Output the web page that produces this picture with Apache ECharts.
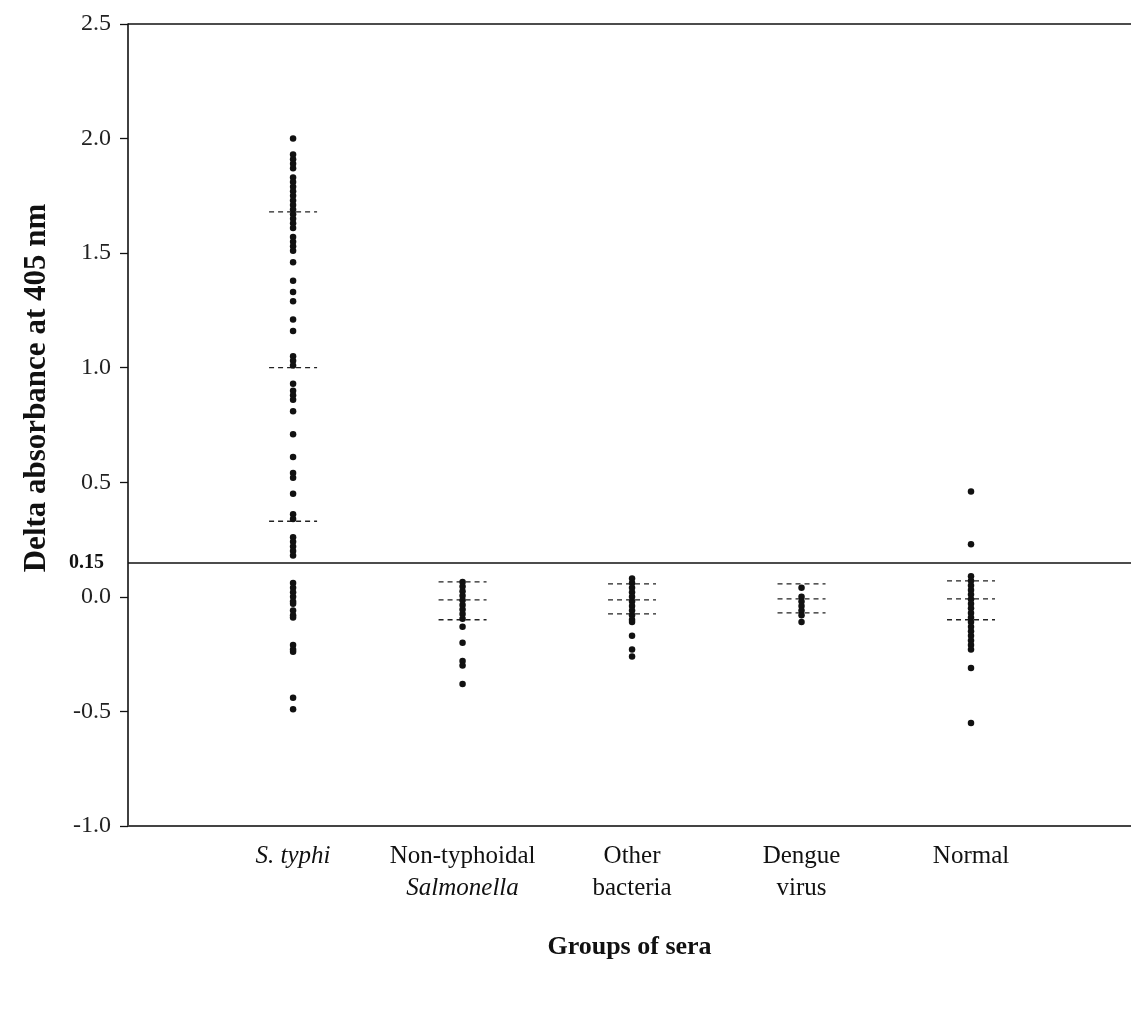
<!DOCTYPE html>
<html>
<head>
<meta charset="utf-8">
<script src="https://cdn.jsdelivr.net/npm/echarts@6/dist/echarts.min.js"></script>
<style>
  html, body { margin: 0; padding: 0; background: #fff; }
  #chart { width: 1131px; height: 1015px; }
</style>
</head>
<body>
<div id="chart"></div>
<script>
// ---- Data ----
const categories = ['S. typhi', 'Non-typhoidal Salmonella', 'Other bacteria', 'Dengue virus', 'Normal'];
const categoryLabels = ['{i|S. typhi}', 'Non-typhoidal\n{i|Salmonella}', 'Other\nbacteria', 'Dengue\nvirus', 'Normal'];
const categoryPositions = [1, 2, 3, 4, 5];

const sTyphi = [2.00, 1.93, 1.91, 1.89, 1.87, 1.83, 1.81, 1.79, 1.77, 1.75, 1.73, 1.71, 1.69, 1.67,
  1.65, 1.63, 1.61, 1.57, 1.55, 1.53, 1.51, 1.46, 1.38, 1.33, 1.29, 1.21, 1.16, 1.05, 1.03, 1.01,
  0.93, 0.90, 0.88, 0.86, 0.81, 0.71, 0.61, 0.54, 0.52, 0.45, 0.36, 0.34, 0.26, 0.24, 0.22, 0.20,
  0.18, 0.06, 0.04, 0.02, 0.00, -0.02, -0.03, -0.06, -0.08, -0.09, -0.21, -0.23, -0.24, -0.44, -0.49];
const nonTyphoidal = [0.065, 0.045, 0.025, 0.005, -0.015, -0.035, -0.055, -0.075, -0.095, -0.13,
  -0.20, -0.28, -0.30, -0.38];
const otherBacteria = [0.08, 0.06, 0.04, 0.02, 0.00, -0.02, -0.04, -0.06, -0.08, -0.10, -0.11,
  -0.17, -0.23, -0.26];
const dengueVirus = [0.04, 0.00, -0.02, -0.04, -0.06, -0.08, -0.11];
const normalSera = [0.46, 0.23, 0.09, 0.07, 0.05, 0.03, 0.01, -0.01, -0.03, -0.05, -0.07, -0.09,
  -0.11, -0.13, -0.15, -0.17, -0.19, -0.21, -0.23, -0.31, -0.55];
const groupValues = [sTyphi, nonTyphoidal, otherBacteria, dengueVirus, normalSera];

// mean and mean +/- SD (dashed reference segments) per group
const sTyphiRefs = [1.68, 1.00, 0.33];
const nonTyphoidalRefs = [0.065, -0.013, -0.10];
const otherBacteriaRefs = [0.057, -0.013, -0.074];
const dengueRefs = [0.057, -0.009, -0.07];
const normalRefs = [0.07, -0.009, -0.10];
const groupRefs = [sTyphiRefs, nonTyphoidalRefs, otherBacteriaRefs, dengueRefs, normalRefs];

const cutoffValue = 0.15;
const yMin = -1.0, yMax = 2.5, yInterval = 0.5;

// ---- Chart ----
const SERIF = '"Liberation Serif", "Times New Roman", serif';
const INK = '#111';
const DASH_HALF = 24;

const scatterSeries = groupValues.map((vals, gi) => ({
  type: 'scatter',
  name: categories[gi],
  symbol: 'circle',
  symbolSize: 6.5,
  itemStyle: { color: INK, opacity: 1 },
  data: vals.map(v => [categoryPositions[gi], v]),
  z: 3
}));

const refData = [];
groupRefs.forEach((refs, gi) => refs.forEach(r => refData.push([categoryPositions[gi], r])));

const refSeries = {
  type: 'custom',
  data: refData,
  renderItem: function (params, api) {
    const p = api.coord([api.value(0), api.value(1)]);
    return {
      type: 'line',
      shape: { x1: p[0] - DASH_HALF, y1: p[1], x2: p[0] + DASH_HALF, y2: p[1] },
      style: { stroke: '#222', lineWidth: 1.3, lineDash: [5, 4] }
    };
  },
  z: 2
};

const lineSeries = {
  type: 'line',
  data: [],
  markLine: {
    silent: true,
    symbol: 'none',
    animation: false,
    data: [
      { yAxis: cutoffValue, lineStyle: { color: '#111', width: 1.6, type: 'solid' },
        label: { show: true, position: 'start', formatter: '0.15', distance: 24,
          fontFamily: SERIF, fontWeight: 'bold', fontSize: 20, color: INK } },
      { yAxis: yMax, lineStyle: { color: '#111', width: 1.6, type: 'solid' },
        label: { show: false } }
    ]
  }
};

const option = {
  backgroundColor: '#fff',
  animation: false,
  grid: { left: 128, right: 0, top: 24, bottom: 189, containLabel: false, outerBoundsMode: 'none' },
  xAxis: {
    type: 'value',
    min: 0.026,
    max: 5.944,
    name: 'Groups of sera',
    nameLocation: 'middle',
    nameGap: 108,
    nameTextStyle: { fontFamily: SERIF, fontWeight: 'bold', fontSize: 26, color: INK },
    axisLine: { show: true, onZero: false, lineStyle: { color: '#444', width: 2 } },
    axisTick: { show: false },
    splitLine: { show: false },
    axisLabel: {
      customValues: categoryPositions,
      margin: 14,
      fontFamily: SERIF,
      fontSize: 25,
      lineHeight: 32,
      color: INK,
      formatter: function (v) {
        const i = categoryPositions.indexOf(Math.round(v));
        return i >= 0 ? categoryLabels[i] : '';
      },
      rich: {
        i: { fontStyle: 'italic', fontFamily: SERIF, fontSize: 25, lineHeight: 32, color: INK }
      }
    }
  },
  yAxis: {
    type: 'value',
    min: yMin,
    max: yMax,
    interval: yInterval,
    name: 'Delta absorbance at 405 nm',
    nameLocation: 'middle',
    nameRotate: 90,
    nameGap: 76,
    nameTextStyle: { fontFamily: SERIF, fontWeight: 'bold', fontSize: 31, color: INK,
      padding: [0, 0, 0, 74] },
    axisLine: { show: true, onZero: false, lineStyle: { color: '#111', width: 1.6 } },
    axisTick: { show: true, inside: false, length: 8, lineStyle: { color: '#111', width: 1.3 } },
    splitLine: { show: false },
    axisLabel: {
      margin: 17,
      fontFamily: SERIF,
      fontSize: 24,
      color: '#222',
      formatter: v => v.toFixed(1)
    }
  },
  series: [lineSeries, refSeries].concat(scatterSeries)
};

const chart = echarts.init(document.getElementById('chart'), null, { renderer: 'canvas' });
chart.setOption(option);
</script>
</body>
</html>
